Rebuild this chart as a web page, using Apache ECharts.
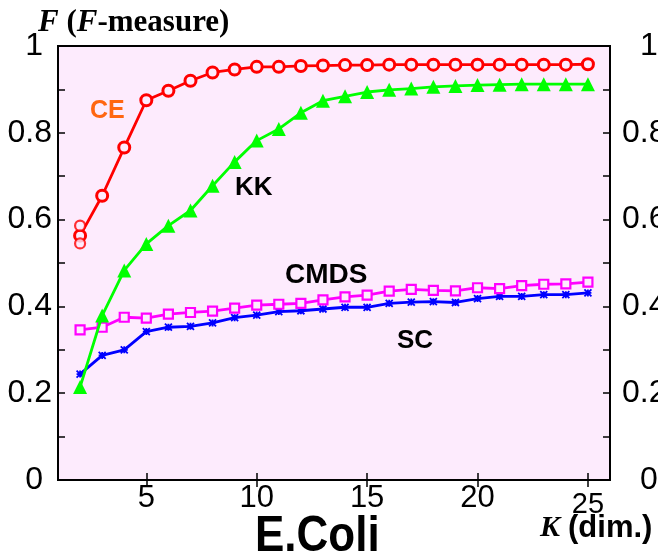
<!DOCTYPE html>
<html><head><meta charset="utf-8">
<script src="https://cdn.jsdelivr.net/npm/echarts@6/dist/echarts.min.js"></script>
<style>html,body{margin:0;padding:0;background:#fff}#c{width:658px;height:554px}</style>
</head><body><div id="c"></div><script>
// ---- data ----
const dims = [2,3,4,5,6,7,8,9,10,11,12,13,14,15,16,17,18,19,20,21,22,23,24,25];
const ceF   = [0.563,0.655,0.766,0.875,0.897,0.920,0.939,0.946,0.952,0.952,0.954,0.955,0.956,0.956,0.957,0.957,0.957,0.957,0.957,0.957,0.957,0.957,0.957,0.958];
const kkF   = [0.214,0.379,0.483,0.544,0.586,0.621,0.678,0.733,0.782,0.809,0.846,0.874,0.884,0.894,0.899,0.902,0.906,0.908,0.910,0.911,0.912,0.912,0.912,0.912];
const cmdsF = [0.346,0.352,0.375,0.373,0.382,0.386,0.389,0.396,0.403,0.405,0.407,0.415,0.422,0.426,0.435,0.439,0.437,0.436,0.443,0.441,0.448,0.451,0.452,0.456];
const scF   = [0.244,0.287,0.300,0.342,0.352,0.354,0.362,0.374,0.380,0.388,0.390,0.394,0.398,0.398,0.407,0.410,0.411,0.409,0.418,0.423,0.423,0.427,0.427,0.431];
const ceExtraK = [2,2];
const ceExtraF = [0.586,0.545];
const xTicks = [5,10,15,20,25];
const yTicks = [0,0.2,0.4,0.6,0.8,1];
const yTickLabels = ['0','0.2','0.4','0.6','0.8','1'];

// ---- chart ----
const BG = '#fdebfd';
const SANS = 'Liberation Sans, Arial, sans-serif';
const SERIF = 'Liberation Serif, Times New Roman, serif';
const pair = (xs, ys) => xs.map((x,i)=>[x, ys[i]]);
const chart = echarts.init(document.getElementById('c'), null, {renderer:'canvas'});

const yLabelFmtL = v => {
  const s = String(+v.toFixed(1));
  return (s === '0' || s === '1') ? s + '{p|}' : s;
};
const axisCommonX = {
  type:'value', min:1, max:26,
  axisLine:{show:true, lineStyle:{color:'#000', width:2}},
  axisTick:{show:true, inside:true, length:7, customValues:xTicks, lineStyle:{color:'#000', width:1.5}},
  splitLine:{show:false}
};
const axisCommonY = {
  type:'value', min:0, max:1, interval:0.2,
  axisLine:{show:true, lineStyle:{color:'#000', width:2}},
  axisTick:{show:true, inside:true, length:7, lineStyle:{color:'#000', width:1.5}},
  minorTick:{show:true, splitNumber:2, length:7, lineStyle:{color:'#000', width:1.5}},
  splitLine:{show:false}
};

const graphics = [
  {type:'text', x:38, y:23, style:{text:'{i|F}{b| (}{i|F}{b|-measure)}', verticalAlign:'middle',
    rich:{i:{fontFamily:SERIF, fontStyle:'italic', fontWeight:'bold', fontSize:31, fill:'#000'},
          b:{fontFamily:SERIF, fontWeight:'bold', fontSize:31, fill:'#000'}}}},
  {type:'text', x:90, y:111, style:{text:'CE', fontFamily:SANS, fontWeight:'bold', fontSize:25, fill:'#ff6611', verticalAlign:'middle'}},
  {type:'text', x:235, y:188, style:{text:'KK', fontFamily:SANS, fontWeight:'bold', fontSize:26, fill:'#000', verticalAlign:'middle'}},
  {type:'text', x:285, y:275, style:{text:'CMDS', fontFamily:SANS, fontWeight:'bold', fontSize:28, fill:'#000', verticalAlign:'middle'}},
  {type:'text', x:397, y:341, style:{text:'SC', fontFamily:SANS, fontWeight:'bold', fontSize:26, fill:'#000', verticalAlign:'middle'}},
  {type:'text', x:255, y:537, scaleY:1.12, style:{text:'E.Coli', fontFamily:SANS, fontWeight:'bold', fontSize:44, fill:'#000', verticalAlign:'middle'}},
  {type:'text', x:540, y:528, style:{text:'{k|K}{s|}{d|(dim.)}', verticalAlign:'middle',
    rich:{k:{fontFamily:SERIF, fontStyle:'italic', fontWeight:'bold', fontSize:30, fill:'#000'},
          s:{width:8},
          d:{fontFamily:SANS, fontWeight:'bold', fontSize:31, fill:'#000'}}}}
];

chart.setOption({
  animation:false,
  backgroundColor:'#fff',
  grid:{left:58, right:48, top:46, bottom:74, show:true, backgroundColor:BG, borderColor:'#000', borderWidth:2},
  xAxis:[
    Object.assign({}, axisCommonX, {position:'bottom',
      axisLabel:{show:true, customValues:xTicks, fontSize:31, color:'#000', fontFamily:SANS, margin:3,
        formatter: v => v === 25 ? '{s|25}' : String(v),
        rich:{s:{fontSize:29, color:'#000', fontFamily:SANS, padding:[7,0,0,0]}}}}),
    Object.assign({}, axisCommonX, {position:'top', axisLabel:{show:false}})
  ],
  yAxis:[
    Object.assign({}, axisCommonY, {position:'left',
      axisLabel:{fontSize:32, color:'#000', fontFamily:SANS, margin:6, formatter:yLabelFmtL,
        rich:{p:{width:9}}}}),
    Object.assign({}, axisCommonY, {position:'right', axisLabel:{show:false}})
  ],
  series:[
    {name:'SC', type:'line', data:pair(dims, scF), symbol:'path://M0,0L10,10M10,0L0,10M5,0L5,10M0,5L10,5', symbolSize:7,
      lineStyle:{color:'#0000ff', width:2.8}, itemStyle:{color:'#0000ff', borderColor:'#0000ff', borderWidth:1.8}, z:2},
    {name:'CMDS', type:'line', data:pair(dims, cmdsF), symbol:'rect', symbolSize:9,
      lineStyle:{color:'#ff00ff', width:2.8}, itemStyle:{color:BG, borderColor:'#ff00ff', borderWidth:2.2}, z:3},
    {name:'KK', type:'line', data:pair(dims, kkF), symbol:'triangle', symbolSize:14,
      lineStyle:{color:'#00ff00', width:2.8}, itemStyle:{color:'#00ff00'}, z:4},
    {name:'CE', type:'line', data:pair(dims, ceF), symbol:'circle', symbolSize:11,
      lineStyle:{color:'#ff0000', width:2.8}, itemStyle:{color:BG, borderColor:'#ff0000', borderWidth:3}, z:5},
    {name:'CEextra', type:'scatter', data:pair(ceExtraK, ceExtraF), symbol:'circle', symbolSize:10,
      itemStyle:{color:BG, borderColor:'#ff0000', borderWidth:2.2}, z:5}
  ],
  graphic:graphics
});

// Right-axis tick labels placed through the right y-axis scale (allowed to run past the canvas edge)
const rightLabels = yTicks.map((v, i) => {
  const py = chart.convertToPixel({yAxisIndex:1}, v);
  const s = yTickLabels[i];
  const isInt = (s === '0' || s === '1');
  return {type:'text', x: isInt ? 640 : 622, y: py,
    style:{text:s, fontFamily:SANS, fontSize:32, fill:'#000', verticalAlign:'middle', align:'left'}};
});
chart.setOption({graphic: graphics.concat(rightLabels)});
</script></body></html>
